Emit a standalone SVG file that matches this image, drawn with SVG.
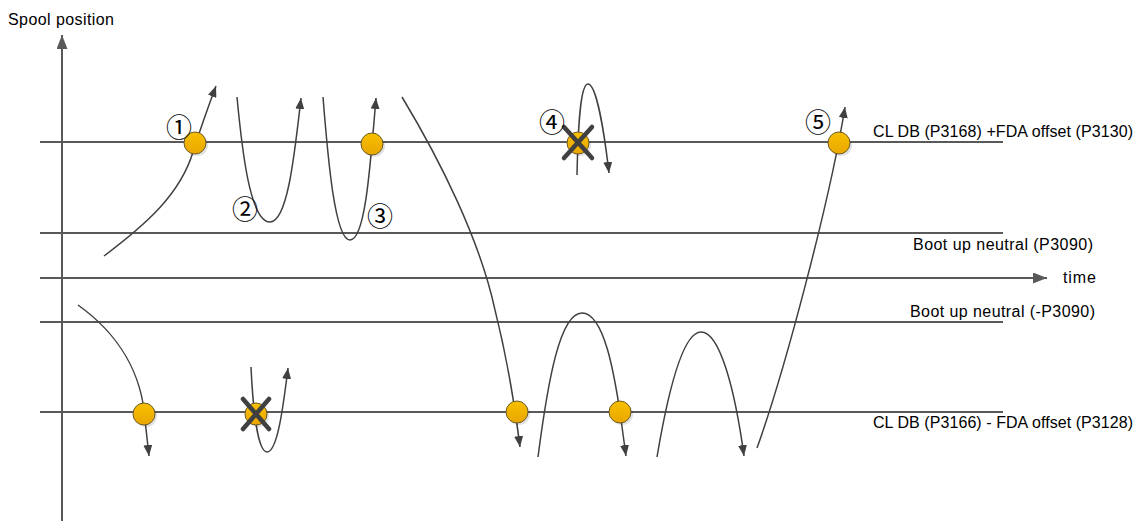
<svg xmlns="http://www.w3.org/2000/svg" width="1137" height="521" viewBox="0 0 1137 521">
<style>
.grid{stroke:#595959;stroke-width:2;fill:none}
.curve{stroke:#404040;stroke-width:1.5;fill:none;marker-end:url(#arr)}
.lbl{font-family:"Liberation Sans",Arial,sans-serif;font-size:16px;fill:#000}
.num{font-family:"Noto Sans CJK JP","DejaVu Sans",sans-serif;font-size:26px;fill:#000}
.dot{fill:url(#g);stroke:#6b5a2a;stroke-width:1}
.shadow{fill:#000;opacity:0.12}
.x{stroke:#404040;stroke-width:4.5;stroke-linecap:round}
</style>
<defs>
<linearGradient id="g" x1="0" y1="0" x2="0" y2="1">
<stop offset="0" stop-color="#F8C000"/>
<stop offset="1" stop-color="#E9A600"/>
</linearGradient>
<marker id="arr" markerWidth="11" markerHeight="9" refX="11" refY="4.5" orient="auto" markerUnits="userSpaceOnUse">
<path d="M0,0 L11,4.5 L0,9 z" fill="#404040"/>
</marker>
<marker id="axarr" markerWidth="14" markerHeight="11" refX="14" refY="5.5" orient="auto" markerUnits="userSpaceOnUse">
<path d="M0,0 L14,5.5 L0,11 z" fill="#595959"/>
</marker>
</defs>

<g id="axes">
<line class="grid" x1="62" y1="521" x2="62" y2="35" marker-end="url(#axarr)"/>
<line class="grid" x1="40" y1="278" x2="1047" y2="278" marker-end="url(#axarr)"/>
<text class="lbl" x="8" y="25" textLength="106">Spool position</text>
<text class="lbl" x="1063" y="283" textLength="33">time</text>
</g>

<g id="levels">
<line class="grid" x1="40" y1="142" x2="1003" y2="142"/>
<line class="grid" x1="40" y1="233" x2="1003" y2="233"/>
<line class="grid" x1="40" y1="322" x2="1003" y2="322"/>
<line class="grid" x1="40" y1="412" x2="1003" y2="412"/>
<text class="lbl" x="873" y="137" textLength="260">CL DB (P3168) +FDA offset (P3130)</text>
<text class="lbl" x="913" y="250" textLength="180">Boot up neutral (P3090)</text>
<text class="lbl" x="910" y="317" textLength="185">Boot up neutral (-P3090)</text>
<text class="lbl" x="873" y="428" textLength="260">CL DB (P3166) - FDA offset (P3128)</text>
</g>

<g id="connectors">
<path class="curve" d="M104,256 C145,225 180,195 193,152 C200,130 207,110 216,86"/>
<path class="curve" d="M237,97 C242,150 250,222 270,222 C288,222 295,150 301,98"/>
<path class="curve" d="M323,97 C328,160 335,240 350,240 C365,240 370,170 376,98"/>
<path class="curve" d="M402,97 C440,160 480,240 495,310 C505,350 513,390 520,447"/>
<path class="curve" d="M577,175 C578,130 580,84 588,84 C596,84 604,130 609,173"/>
<path class="curve" d="M757,448 C785,370 830,200 845,107"/>
<path class="curve" d="M78,305 C120,335 142,375 145,420 L149,456"/>
<path class="curve" d="M251,367 C253,410 258,452 267,452 C278,452 284,400 288,368"/>
<path class="curve" d="M538,457 C548,380 560,313 582,313 C605,313 615,380 620,412 L626,456"/>
<path class="curve" d="M657,457 C670,380 685,332 701,332 C720,332 735,390 744,456"/>
</g>

<g id="p1">
<circle class="shadow" cx="197" cy="145" r="11"/>
<circle class="dot" cx="195" cy="143" r="11"/>
<text class="num" x="179" y="137" text-anchor="middle">①</text>
</g>
<g id="p2">
<text class="num" x="245" y="219" text-anchor="middle">②</text>
</g>
<g id="p3">
<circle class="shadow" cx="374" cy="146" r="11"/>
<circle class="dot" cx="372" cy="144" r="11"/>
<text class="num" x="380" y="226" text-anchor="middle">③</text>
</g>
<g id="p4">
<circle class="shadow" cx="580" cy="145" r="11"/>
<circle class="dot" cx="578" cy="143" r="11"/>
<line class="x" x1="564" y1="127" x2="592" y2="158"/>
<line class="x" x1="592" y1="127" x2="564" y2="158"/>
<text class="num" x="552" y="132" text-anchor="middle">④</text>
</g>
<g id="p5">
<circle class="shadow" cx="841" cy="145" r="11"/>
<circle class="dot" cx="839" cy="143" r="11"/>
<text class="num" x="818" y="132" text-anchor="middle">⑤</text>
</g>
<g id="b1">
<circle class="shadow" cx="146" cy="416" r="11"/>
<circle class="dot" cx="144" cy="414" r="11"/>
</g>
<g id="b2">
<circle class="shadow" cx="258" cy="416" r="11"/>
<circle class="dot" cx="256" cy="414" r="11"/>
<line class="x" x1="243" y1="399" x2="269" y2="429"/>
<line class="x" x1="269" y1="399" x2="243" y2="429"/>
</g>
<g id="b3">
<circle class="shadow" cx="519" cy="414" r="11"/>
<circle class="dot" cx="517" cy="412" r="11"/>
</g>
<g id="b4">
<circle class="shadow" cx="622" cy="414" r="11"/>
<circle class="dot" cx="620" cy="412" r="11"/>
</g>
</svg>
